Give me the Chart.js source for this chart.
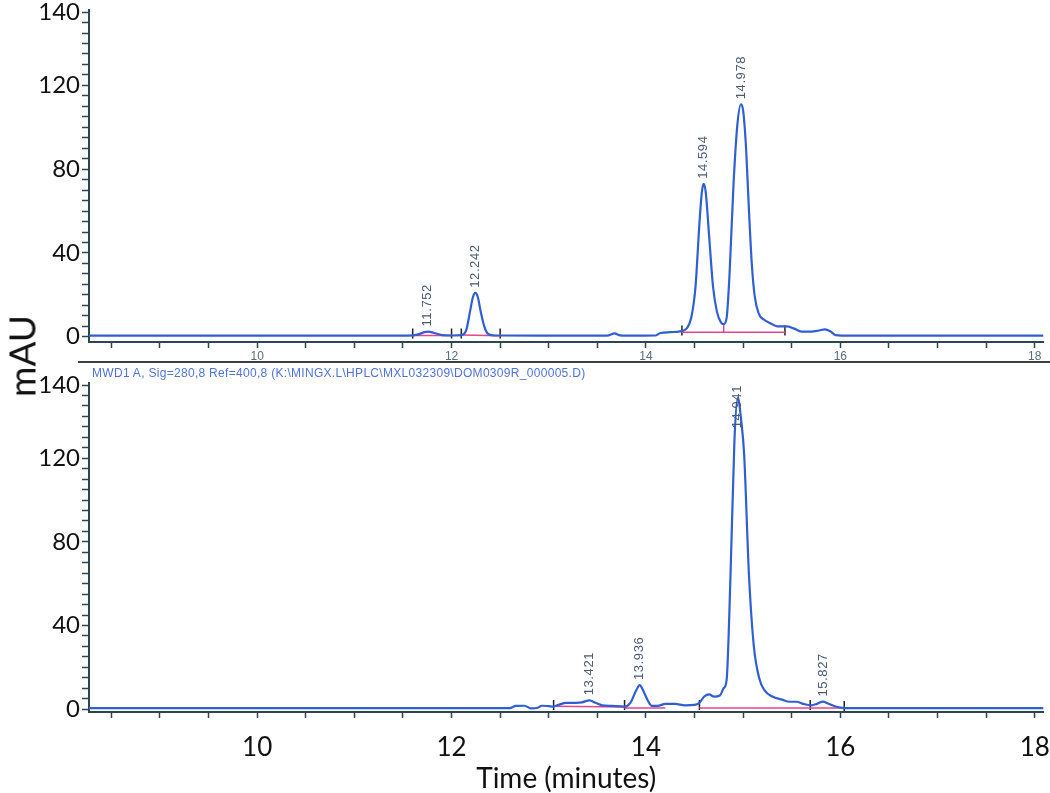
<!DOCTYPE html>
<html>
<head>
<meta charset="utf-8">
<script src="https://cdn.jsdelivr.net/npm/chart.js@4.4.1/dist/chart.umd.min.js"></script>
<style>
    body { margin: 0; background: #fff; width: 1050px; height: 793px; position: relative; overflow: hidden; }
    canvas { position: absolute; left: 0; }
    #topChart { top: 0; }
    #bottomChart { top: 360px; }
    #divider { position: absolute; left: 78px; top: 361px; width: 972px; height: 2px; background: #3a3f44; }
    #caption { position: absolute; left: 92px; top: 366px; font: 12px "Liberation Sans", Arial, sans-serif; letter-spacing: 0.3px; color: #4f73d9; white-space: nowrap; z-index: 2; }
    #ylabel { position: absolute; left: 21px; top: 356px; transform: translate(-50%, -50%) rotate(-90deg); font: 37px Lato, sans-serif; color: #111; }
</style>
</head>
<body>
<canvas id="topChart" width="1050" height="362"></canvas>
<div id="divider"></div>
<div id="caption">MWD1 A, Sig=280,8 Ref=400,8 (K:\MINGX.L\HPLC\MXL032309\DOM0309R_000005.D)</div>
<canvas id="bottomChart" width="1050" height="433"></canvas>
<div id="ylabel">mAU</div>
<script>
// axis labels
var xLabelValues = [10, 12, 14, 16, 18];
var yLabelValues = [0, 40, 80, 120, 155];
var yLabelTexts = ['0', '40', '80', '120', '140'];

// top trace
var topTime = [8.27, 9.0, 10.0, 11.0, 11.55, 11.65, 11.72, 11.76, 11.82, 11.9, 12.0, 12.1, 12.15, 12.19, 12.22, 12.245, 12.27, 12.3, 12.34, 12.38, 12.45,
    13.0, 13.6, 13.68, 13.72, 13.8, 14.1, 14.15, 14.25, 14.35, 14.42, 14.47, 14.51, 14.55, 14.575, 14.594, 14.615, 14.65, 14.69, 14.73, 14.77, 14.8,
    14.83, 14.86, 14.9, 14.94, 14.978, 15.0, 15.03, 15.06, 15.09, 15.12, 15.16, 15.22, 15.28, 15.35, 15.45, 15.52, 15.6, 15.7, 15.78, 15.84, 15.9,
    15.95, 16.1, 17.0, 18.09];
var topSignal = [0.5, 0.5, 0.5, 0.5, 0.5, 1.0, 2.2, 2.5, 1.8, 0.8, 0.6, 0.8, 3, 12, 19, 21, 19, 12, 4.5, 1.2, 0.6,
    0.5, 0.5, 1.6, 0.8, 0.5, 0.6, 1.8, 2.2, 2.6, 4, 10, 24, 54, 69, 73, 69, 48, 24, 12, 7, 6,
    9, 30, 72, 101, 111, 108, 90, 60, 34, 19, 11, 8, 6.5, 5, 5, 4, 2.5, 2.5, 3, 3.5, 2.5,
    0.8, 0.5, 0.5, 0.5];
var topPeakTimes = [11.752, 12.242, 14.594, 14.978];
var topPeakHeights = [2.5, 21, 73, 111];
var topPeakLabels = ['11.752', '12.242', '14.594', '14.978'];
var topBaseTime = [11.6, 12.0, 12.05, 12.1, 12.5, 12.6, 14.37, 15.43];
var topBaseSignal = [0.6, 0.6, null, 0.9, 0.5, null, 2.2, 2.2];
var topDropTime = [14.8, 14.8];
var topDropSignal = [2.2, 6];
var topMarkTimes = [11.6, 12.0, 12.1, 12.5, 14.37, 15.43];
var topMarkSignal = [1.5, 1.5, 1.5, 1.5, 3, 3];

// bottom trace
var bottomTime = [8.27, 10.0, 12.0, 12.6, 12.66, 12.75, 12.82, 12.88, 12.93, 13.0, 13.05, 13.1, 13.18, 13.28, 13.34, 13.42, 13.48, 13.55, 13.65,
    13.78, 13.84, 13.9, 13.936, 13.97, 14.02, 14.06, 14.12, 14.2, 14.3, 14.4, 14.5, 14.55, 14.6, 14.65, 14.7, 14.76, 14.8, 14.83, 14.87, 14.91,
    14.945, 14.98, 15.01, 15.06, 15.11, 15.17, 15.22, 15.3, 15.4, 15.48, 15.55, 15.62, 15.7, 15.76, 15.82, 15.88, 15.95, 16.02, 16.1, 18.09];
var bottomSignal = [0.5, 0.5, 0.5, 0.5, 1.5, 1.6, 0.3, 0.5, 1.6, 1.4, 1.2, 2, 3, 3, 3.2, 4.2, 3, 1.8, 1.5,
    1.2, 3, 9, 11.5, 9, 4, 1.5, 1.5, 2.5, 2.5, 1.8, 2, 3, 6, 7, 6, 6.5, 10, 14, 64, 128,
    149, 138, 122, 64, 30, 14, 9, 6, 4.5, 3.5, 3.5, 2.5, 1.8, 2.5, 3.6, 2.5, 1.2, 0.6, 0.5, 0.5];
var bottomPeakTimes = [13.421, 13.936, 14.941, 15.827];
var bottomPeakHeights = [4.2, 11.5, 149, 3.6];
var bottomPeakLabels = ['13.421', '13.936', '14.941', '15.827'];
var bottomBaseTime = [13.05, 13.78, 13.8, 13.78, 14.2, 14.3, 14.55, 16.04];
var bottomBaseSignal = [1.3, 1.0, null, 0.5, 0.5, null, 0.5, 0.5];
var bottomMarkTimes = [13.05, 13.78, 14.55, 15.69, 16.04];
var bottomMarkSignal = [2, 2, 2, 2, 1.5];

function toPoints(xs, ys) {
    return xs.map(function (x, i) { return { x: x, y: ys[i] }; });
}

var peakLabelPlugin = {
    id: 'peakLabels',
    afterDatasetsDraw: function (chart, args, opts) {
        var ctx = chart.ctx;
        var xs = chart.scales.x, ys = chart.scales.y;
        ctx.save();
        ctx.font = '13px "Liberation Sans", Arial, sans-serif';
        ctx.letterSpacing = '0.6px';
        ctx.fillStyle = '#4a5a74';
        ctx.textBaseline = 'middle';
        ctx.textAlign = 'left';
        opts.times.forEach(function (t, i) {
            var text = opts.labels[i];
            var w = ctx.measureText(text).width;
            var px = xs.getPixelForValue(t);
            var py = ys.getPixelForValue(opts.heights[i]) - 5;
            py = Math.max(py, chart.chartArea.top + w + 2);
            ctx.save();
            ctx.translate(px, py);
            ctx.rotate(-Math.PI / 2);
            ctx.fillText(text, 0, 0);
            ctx.restore();
        });
        ctx.restore();
    }
};

function makeChart(id, cfg) {
    var ctx = document.getElementById(id).getContext('2d');
    return new Chart(ctx, {
        type: 'line',
        data: {
            datasets: [{
                data: toPoints(cfg.time, cfg.signal),
                borderColor: '#2f5fd3',
                borderWidth: 2.2,
                pointRadius: 0,
                cubicInterpolationMode: 'monotone'
            }, {
                data: toPoints(cfg.baseTime, cfg.baseSignal),
                borderColor: '#e2468f',
                borderWidth: 1.5,
                pointRadius: 0,
                spanGaps: false
            }, {
                data: toPoints(cfg.dropTime || [], cfg.dropSignal || []),
                borderColor: '#e2468f',
                borderWidth: 1.5,
                pointRadius: 0
            }, {
                type: 'scatter',
                data: toPoints(cfg.markTime, cfg.markSignal),
                showLine: false,
                pointStyle: 'line',
                rotation: 90,
                radius: 5,
                borderColor: '#222',
                borderWidth: 1.5
            }]
        },
        options: {
            responsive: false,
            animation: false,
            layout: { padding: { top: cfg.padTop, right: 3, left: 0, bottom: 0 } },
            plugins: {
                legend: { display: false },
                tooltip: { enabled: false },
                peakLabels: { times: cfg.peakTimes, heights: cfg.peakHeights, labels: cfg.peakLabels }
            },
            scales: {
                x: {
                    type: 'linear',
                    min: 8.27,
                    max: 18.09,
                    afterBuildTicks: function (scale) {
                        var t = [];
                        for (var v = 8.5; v <= 18.0001; v += 0.5) t.push({ value: v });
                        scale.ticks = t;
                    },
                    afterFit: function (scale) {
                        scale.height = cfg.xHeight;
                        scale.paddingLeft = 0;
                        scale.paddingRight = 0;
                    },
                    ticks: {
                        autoSkip: false,
                        maxRotation: 0,
                        padding: cfg.xPad,
                        color: cfg.xColor,
                        font: cfg.xFont,
                        callback: function (v) {
                            return xLabelValues.indexOf(v) >= 0 ? String(v) : '';
                        }
                    },
                    grid: { drawOnChartArea: false, tickLength: 6, tickColor: '#2c4650', tickWidth: 1.5 },
                    border: { color: '#2c4650', width: 2 },
                    title: cfg.xTitle
                },
                y: {
                    min: cfg.yMin,
                    max: 156,
                    afterBuildTicks: function (scale) {
                        var t = [];
                        for (var v = 0; v <= 155; v += 5) t.push({ value: v });
                        scale.ticks = t;
                    },
                    afterFit: function (scale) {
                        scale.width = 89;
                        scale.paddingTop = 0;
                        scale.paddingBottom = 0;
                    },
                    ticks: {
                        autoSkip: false,
                        padding: 2,
                        color: '#111',
                        font: { family: 'Lato', size: 24 },
                        callback: function (v) {
                            var i = yLabelValues.indexOf(v);
                            return i >= 0 ? yLabelTexts[i] : '';
                        }
                    },
                    grid: { drawOnChartArea: false, tickLength: 7, tickColor: '#2c4650', tickWidth: 1.5 },
                    border: { color: '#2c4650', width: 2 }
                }
            }
        },
        plugins: [peakLabelPlugin]
    });
}

makeChart('topChart', {
    time: topTime, signal: topSignal,
    baseTime: topBaseTime, baseSignal: topBaseSignal,
    dropTime: topDropTime, dropSignal: topDropSignal,
    markTime: topMarkTimes, markSignal: topMarkSignal,
    peakTimes: topPeakTimes, peakHeights: topPeakHeights, peakLabels: topPeakLabels,
    padTop: 10, yMin: -2.5, xHeight: 20, xPad: 1,
    xColor: '#5a6e7c', xFont: { family: '"Liberation Sans", Arial', size: 12 },
    xTitle: { display: false }
});

makeChart('bottomChart', {
    time: bottomTime, signal: bottomSignal,
    baseTime: bottomBaseTime, baseSignal: bottomBaseSignal,
    markTime: bottomMarkTimes, markSignal: bottomMarkSignal,
    peakTimes: bottomPeakTimes, peakHeights: bottomPeakHeights, peakLabels: bottomPeakLabels,
    padTop: 23, yMin: -1.4, xHeight: 81, xPad: 14,
    xColor: '#111', xFont: { family: 'Lato', size: 26 },
    xTitle: { display: true, text: 'Time (minutes)', color: '#111', font: { family: 'Lato', size: 28, lineHeight: 1.0 }, padding: { top: 0, bottom: 0 } }
});
</script>
</body>
</html>
